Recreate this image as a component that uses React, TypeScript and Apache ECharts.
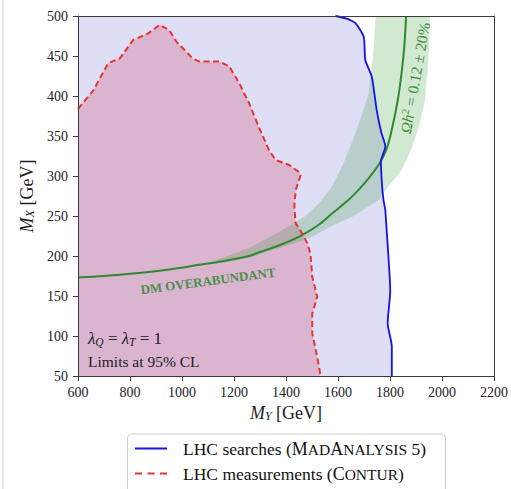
import React, { useEffect, useRef } from "react";
import * as echarts from "echarts";

// ---- data (GeV) ----
const xTicks = [600, 800, 1000, 1200, 1400, 1600, 1800, 2000, 2200];
const yTicks = [50, 100, 150, 200, 250, 300, 350, 400, 450, 500];

// LHC searches (MadAnalysis 5) exclusion contour [M_Y, M_X]
const lhcSearches: [number, number][] = [
  [1590, 500], [1630, 497], [1667, 491], [1699, 474], [1705, 445], [1730, 424],
  [1749, 382], [1766, 355], [1782, 337], [1765, 318], [1769, 290], [1775, 270],
  [1782, 257], [1788, 228], [1794, 199], [1801, 157], [1791, 116], [1807, 87], [1807, 50],
];

// LHC measurements (Contur) exclusion contour [M_Y, M_X]
const lhcMeasurements: [number, number][] = [
  [600, 384], [659, 407], [716, 441], [761, 447], [812, 470], [869, 478], [914, 489],
  [952, 482], [978, 468], [1041, 447], [1067, 443], [1144, 443], [1182, 437], [1220, 416],
  [1258, 391], [1297, 360], [1335, 332], [1360, 320], [1411, 314], [1450, 305], [1456, 301],
  [1437, 282], [1432, 262], [1437, 241], [1450, 235], [1482, 216], [1494, 203], [1501, 174],
  [1520, 149], [1501, 128], [1501, 103], [1520, 74], [1533, 50],
];

// relic density line  Omega h^2 = 0.12
const relicLine: [number, number][] = [
  [600, 173], [700, 175], [812, 178], [950, 183], [1067, 189], [1182, 195], [1258, 200],
  [1300, 205], [1380, 214], [1462, 226], [1530, 240], [1577, 253], [1640, 270], [1680, 283],
  [1720, 298], [1760, 316], [1787, 334], [1805, 355], [1830, 395], [1845, 430], [1855, 462],
  [1862, 500],
];

// +-20% band edges
const relicBandUpper: [number, number][] = [
  [1100, 191], [1182, 201], [1258, 210], [1373, 230], [1475, 250], [1530, 267], [1577, 287],
  [1620, 315], [1667, 353], [1700, 385], [1718, 403], [1735, 450], [1745, 500],
];
const relicBandLower: [number, number][] = [
  [1954, 500], [1948, 450], [1935, 395], [1910, 360], [1880, 332], [1840, 305], [1794, 287],
  [1756, 270], [1660, 250], [1580, 238], [1488, 222], [1373, 210], [1258, 198], [1182, 193],
  [1100, 189],
];

const SERIF = "'Liberation Serif', 'DejaVu Serif', serif";

function polygonSeries(points: [number, number][], fill: string, z: number) {
  return {
    type: "custom",
    coordinateSystem: "cartesian2d",
    silent: true,
    z,
    clip: true,
    data: [points[0]],
    renderItem: (_params: any, api: any) => ({
      type: "polygon",
      shape: { points: points.map((p) => api.coord(p)) },
      style: { fill },
    }),
  };
}

const nameStyle = {
  fontFamily: SERIF,
  fontSize: 18,
  color: "#222",
  rich: {
    it: { fontFamily: SERIF, fontSize: 18, fontStyle: "italic", color: "#222" },
    sub: { fontFamily: SERIF, fontSize: 12, fontStyle: "italic", color: "#222", verticalAlign: "bottom", padding: [7, 0, 0, 0] },
  },
};

export default function App() {
  const ref = useRef<HTMLDivElement>(null);
  useEffect(() => {
    if (!ref.current) return;
    const chart = echarts.init(ref.current, null, { renderer: "svg" });
    const lavenderRegion: [number, number][] = [[600, 50], [600, 500], ...lhcSearches];
    const pinkRegion: [number, number][] = [[600, 50], ...lhcMeasurements];
    const band: [number, number][] = [...relicBandUpper, ...relicBandLower];

    const axisCommon = {
      type: "value",
      splitLine: { show: false },
      axisLine: { show: true, lineStyle: { color: "#3a3a3a", width: 1 } },
      axisTick: { show: true, inside: false, length: 5, lineStyle: { color: "#3a3a3a" } },
      axisLabel: { fontFamily: SERIF, fontSize: 14, color: "#222", formatter: (v: number) => String(v) },
      z: 10,
    };

    chart.setOption({
      animation: false,
      backgroundColor: "#fff",
      grid: { left: 78, right: 15, top: 16, bottom: 113 },
      xAxis: [
        {
          ...axisCommon,
          min: xTicks[0],
          max: xTicks[xTicks.length - 1],
          interval: xTicks[1] - xTicks[0],
          axisLabel: { ...axisCommon.axisLabel, margin: 9 },
          name: "{it|M}{sub|Y} [GeV]",
          nameLocation: "middle",
          nameGap: 25,
          nameTextStyle: nameStyle,
        },
        {
          type: "value", position: "top", min: 600, max: 2200, interval: 200, z: 10,
          axisLine: { show: true, lineStyle: { color: "#3a3a3a" } },
          axisTick: { show: false }, axisLabel: { show: false }, splitLine: { show: false },
        },
      ],
      yAxis: [
        {
          ...axisCommon,
          min: yTicks[0],
          max: yTicks[yTicks.length - 1],
          interval: yTicks[1] - yTicks[0],
          axisLabel: { ...axisCommon.axisLabel, margin: 10 },
          name: "{it|M}{sub|X} [GeV]",
          nameLocation: "middle",
          nameRotate: 90,
          nameGap: 40,
          nameTextStyle: nameStyle,
        },
        {
          type: "value", position: "right", min: 50, max: 500, interval: 50, z: 10,
          axisLine: { show: true, lineStyle: { color: "#3a3a3a" } },
          axisTick: { show: false }, axisLabel: { show: false }, splitLine: { show: false },
        },
      ],
      series: [
        polygonSeries(lavenderRegion, "#dfdef7", 1),
        polygonSeries(pinkRegion, "#dbb4d0", 2),
        polygonSeries(band, "rgba(46,150,46,0.22)", 3),
        {
          type: "line", data: relicLine, showSymbol: false, smooth: 0.3, z: 5, silent: true,
          lineStyle: { color: "#2f8a2f", width: 2 },
        },
        {
          type: "line", data: lhcMeasurements, showSymbol: false, z: 6, silent: true,
          lineStyle: { color: "#e8342c", width: 2, type: [6, 3.5] },
        },
        {
          type: "line", data: lhcSearches, showSymbol: false, z: 7, silent: true, smooth: 0.2,
          lineStyle: { color: "#1414e6", width: 1.8 },
        },
      ],
      graphic: [
        { type: "line", shape: { x1: 3, y1: 0, x2: 3, y2: 489 }, style: { stroke: "#d0d0d0", lineWidth: 1 } },
        {
          type: "text", x: 415, y: 78, rotation: (80 * Math.PI) / 180, z: 20,
          style: {
            text: "{i|Ωh}{sup|2} = 0.12 ± 20%",
            align: "center", verticalAlign: "middle",
            fontFamily: SERIF, fontSize: 15.5, fill: "#3f8f3f",
            rich: {
              i: { fontFamily: SERIF, fontSize: 15.5, fontStyle: "italic", fill: "#3f8f3f" },
              sup: { fontFamily: SERIF, fontSize: 10.5, fill: "#3f8f3f", verticalAlign: "top", padding: [0, 0, 7, 0] },
            },
          },
        },
        {
          type: "text", x: 208, y: 281, rotation: (7.5 * Math.PI) / 180, z: 20,
          style: {
            text: "DM OVERABUNDANT", align: "center", verticalAlign: "middle",
            fontFamily: SERIF, fontSize: 13, fontWeight: "bold", fill: "#4a8f4a",
          },
        },
        {
          type: "text", x: 88, y: 338, z: 20,
          style: {
            text: "{g|λ}{s|Q} = {g|λ}{s|T} = 1", verticalAlign: "middle",
            fontFamily: SERIF, fontSize: 17, fill: "#222",
            rich: {
              g: { fontFamily: SERIF, fontSize: 17, fontStyle: "italic", fill: "#222" },
              s: { fontFamily: SERIF, fontSize: 11.5, fontStyle: "italic", fill: "#222", verticalAlign: "bottom", padding: [7, 0, 0, 0] },
            },
          },
        },
        {
          type: "text", x: 88, y: 361, z: 20,
          style: { text: "Limits at 95% CL", verticalAlign: "middle", fontFamily: SERIF, fontSize: 15.5, fill: "#222" },
        },
        // legend
        {
          type: "rect", shape: { x: 127.5, y: 434, width: 318, height: 80, r: 4 }, z: 20,
          style: { fill: "rgba(255,255,255,0.9)", stroke: "#cccccc", lineWidth: 1 },
        },
        { type: "line", shape: { x1: 135, y1: 448.5, x2: 167, y2: 448.5 }, z: 21, style: { stroke: "#1414e6", lineWidth: 2 } },
        { type: "line", shape: { x1: 135, y1: 473.5, x2: 167, y2: 473.5 }, z: 21, style: { stroke: "#e8342c", lineWidth: 2, lineDash: [7, 5.5] } },
        {
          type: "text", x: 183, y: 449, z: 21,
          style: {
            text: "LHC searches ({b|M}{s|AD}{b|A}{s|NALYSIS} 5)", verticalAlign: "middle",
            fontFamily: SERIF, fontSize: 17.5, fill: "#111",
            rich: {
              b: { fontFamily: SERIF, fontSize: 18, fill: "#111" },
              s: { fontFamily: SERIF, fontSize: 15.5, fill: "#111" },
            },
          },
        },
        {
          type: "text", x: 183, y: 474, z: 21,
          style: {
            text: "LHC measurements ({b|C}{s|ONTUR})", verticalAlign: "middle",
            fontFamily: SERIF, fontSize: 17.5, fill: "#111",
            rich: {
              b: { fontFamily: SERIF, fontSize: 18, fill: "#111" },
              s: { fontFamily: SERIF, fontSize: 15.5, fill: "#111" },
            },
          },
        },
      ],
    });
    return () => chart.dispose();
  }, []);
  return (
    <div
      ref={ref}
      style={{ position: "fixed", left: 0, top: 0, width: 511, height: 489 }}
    />
  );
}
